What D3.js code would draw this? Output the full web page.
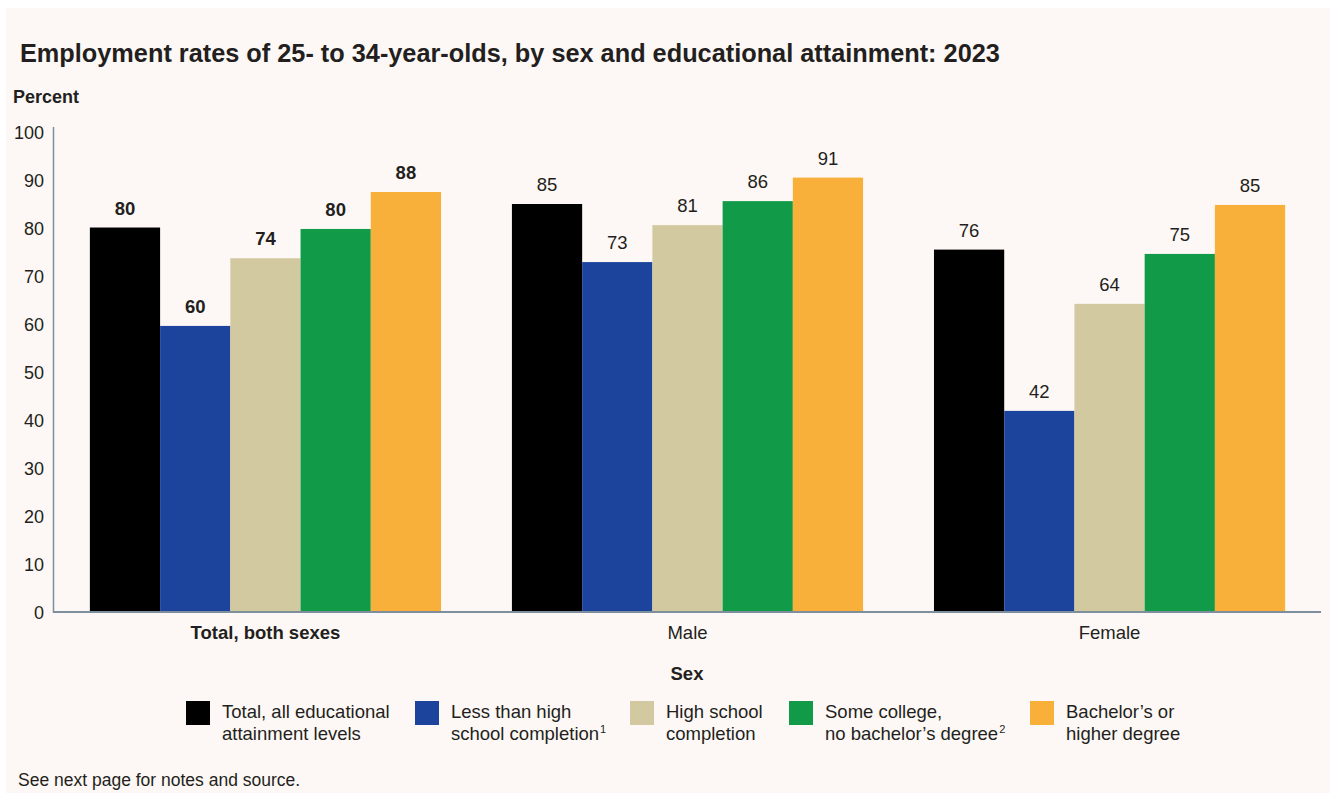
<!DOCTYPE html>
<html>
<head>
<meta charset="utf-8">
<script src="https://cdn.jsdelivr.net/npm/d3@7/dist/d3.min.js"></script>
<style>
  body { margin: 0; background: #fff; }
  svg text { font-family: "Liberation Sans", Arial, sans-serif; fill: #231f20; }
</style>
</head>
<body>
<script>
// data
var groups = ["Total, both sexes", "Male", "Female"];
var seriesNames = ["Total, all educational attainment levels", "Less than high school completion",
  "High school completion", "Some college, no bachelor's degree", "Bachelor's or higher degree"];
var totalValues = [80.1, 59.6, 73.7, 79.8, 87.5];
var maleValues = [85.0, 72.9, 80.6, 85.6, 90.5];
var femaleValues = [75.5, 41.9, 64.2, 74.6, 84.8];
var yTicks = [0, 10, 20, 30, 40, 50, 60, 70, 80, 90, 100];
var legendLines = [
  ["Total, all educational", "attainment levels", ""],
  ["Less than high", "school completion", "1"],
  ["High school", "completion", ""],
  ["Some college,", "no bachelor\u2019s degree", "2"],
  ["Bachelor\u2019s or", "higher degree", ""]
];
var colors = ["#000000", "#1c449c", "#d3c9a0", "#119b48", "#f9b03a"];

var allValues = [totalValues, maleValues, femaleValues];

var width = 1330, height = 793;
var svg = d3.select("body").append("svg").attr("width", width).attr("height", height);

svg.append("rect").attr("x", 6).attr("y", 8).attr("width", width - 6).attr("height", height - 8)
  .attr("fill", "#fdf8f5");

svg.append("text").attr("x", 20).attr("y", 62)
  .style("font-size", "25.3px").style("font-weight", "bold")
  .text("Employment rates of 25- to 34-year-olds, by sex and educational attainment: 2023");

svg.append("text").attr("x", 13).attr("y", 103)
  .style("font-size", "18px").style("font-weight", "bold").text("Percent");

var y = d3.scaleLinear().domain([0, 100]).range([612, 132]);
var x0 = d3.scaleBand().domain(groups).range([54, 1321]).paddingInner(0.168).paddingOuter(0.085);
var x1 = d3.scaleBand().domain(d3.range(5)).range([0, x0.bandwidth()]);

// y tick labels
svg.selectAll(".ytick").data(yTicks).enter().append("text")
  .attr("class", "ytick")
  .attr("x", 44).attr("y", function(d) { return y(d) + 6.5; })
  .attr("text-anchor", "end").style("font-size", "18px")
  .text(function(d) { return d; });

// bars
var g = svg.selectAll(".grp").data(groups).enter().append("g")
  .attr("class", "grp")
  .attr("transform", function(d) { return "translate(" + x0(d) + ",0)"; });

g.selectAll("rect").data(function(d, i) { return allValues[i].map(function(v, j) { return {v: v, j: j, gi: i}; }); })
  .enter().append("rect")
  .attr("x", function(d) { return x1(d.j); })
  .attr("y", function(d) { return y(d.v); })
  .attr("width", x1.bandwidth())
  .attr("height", function(d) { return y(0) - y(d.v); })
  .attr("fill", function(d) { return colors[d.j]; });

g.selectAll(".val").data(function(d, i) { return allValues[i].map(function(v, j) { return {v: v, j: j, gi: i}; }); })
  .enter().append("text")
  .attr("class", "val")
  .attr("x", function(d) { return x1(d.j) + x1.bandwidth() / 2; })
  .attr("y", function(d) { return y(d.v) - 13; })
  .attr("text-anchor", "middle")
  .style("font-size", "18.5px")
  .style("font-weight", function(d) { return d.gi == 0 ? "bold" : "normal"; })
  .text(function(d) { return Math.round(d.v); });

// axes lines
svg.append("line").attr("x1", 53.5).attr("x2", 53.5).attr("y1", 127).attr("y2", 613)
  .attr("stroke", "#7d8e9c").attr("stroke-width", 1.5);
svg.append("line").attr("x1", 53).attr("x2", 1321).attr("y1", 612).attr("y2", 612)
  .attr("stroke", "#7d8e9c").attr("stroke-width", 2);

// group labels
svg.selectAll(".xlab").data(groups).enter().append("text")
  .attr("class", "xlab")
  .attr("x", function(d) { return x0(d) + x0.bandwidth() / 2; })
  .attr("y", 639).attr("text-anchor", "middle").style("font-size", "18.5px")
  .style("font-weight", function(d, i) { return i == 0 ? "bold" : "normal"; })
  .text(function(d) { return d; });

svg.append("text").attr("x", 687).attr("y", 680).attr("text-anchor", "middle")
  .style("font-size", "18.5px").style("font-weight", "bold").text("Sex");

// legend
var legendX = [186, 415, 630, 789, 1030];
var lg = svg.selectAll(".leg").data(legendLines).enter().append("g")
  .attr("class", "leg")
  .attr("transform", function(d, i) { return "translate(" + legendX[i] + ",701)"; });
lg.append("rect").attr("width", 24).attr("height", 24)
  .attr("fill", function(d, i) { return colors[i]; });
lg.append("text").attr("x", 36).attr("y", 17).style("font-size", "18.5px")
  .text(function(d) { return d[0]; });
var l2 = lg.append("text").attr("x", 36).attr("y", 39).style("font-size", "18.5px");
l2.append("tspan").text(function(d) { return d[1]; });
l2.append("tspan").attr("dx", 1).attr("dy", -7).style("font-size", "11px").text(function(d) { return d[2]; });

svg.append("text").attr("x", 18).attr("y", 786).style("font-size", "17.5px")
  .text("See next page for notes and source.");
</script>
</body>
</html>
